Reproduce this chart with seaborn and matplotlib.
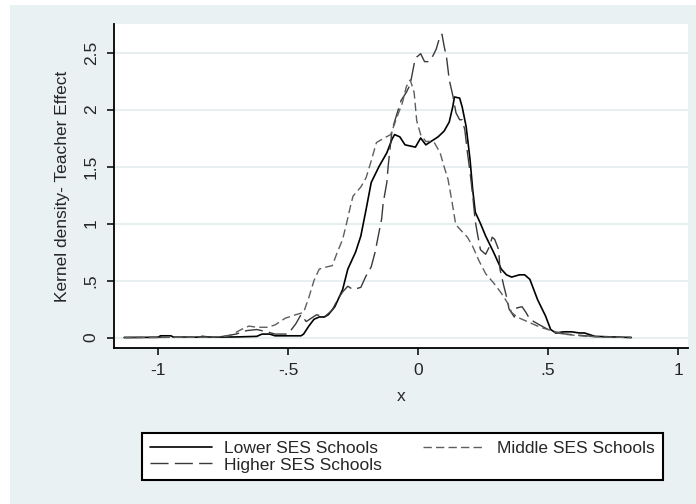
import pandas as pd
import matplotlib.pyplot as plt
import matplotlib.patches as mpatches
import seaborn as sns

# ----------------------------------------------------------
# Data
# ----------------------------------------------------------

lower_x = [-1.13, -1.0, -0.99, -0.95, -0.94, -0.84, -0.83, -0.80, -0.70, -0.62,
           -0.60, -0.57, -0.55, -0.45, -0.44, -0.42, -0.40, -0.38, -0.36, -0.345,
           -0.32, -0.29, -0.27, -0.24, -0.22, -0.20, -0.18, -0.15, -0.12, -0.10,
           -0.09, -0.07, -0.05, -0.03, -0.01, 0.01, 0.03, 0.05, 0.077, 0.10,
           0.12, 0.134, 0.14, 0.16, 0.17, 0.185, 0.20, 0.21, 0.22, 0.24,
           0.26, 0.29, 0.32, 0.34, 0.36, 0.39, 0.41, 0.43, 0.46, 0.49,
           0.51, 0.53, 0.56, 0.59, 0.62, 0.64, 0.68, 0.75, 0.82]
lower_y = [0.0, 0.002, 0.015, 0.015, 0.003, 0.003, 0.01, 0.003, 0.005, 0.01,
           0.03, 0.03, 0.015, 0.015, 0.03, 0.1, 0.16, 0.18, 0.18, 0.2,
           0.27, 0.42, 0.6, 0.75, 0.89, 1.12, 1.36, 1.5, 1.62, 1.74,
           1.78, 1.76, 1.69, 1.68, 1.67, 1.75, 1.69, 1.72, 1.76, 1.81,
           1.89, 2.03, 2.11, 2.1, 2.02, 1.85, 1.56, 1.3, 1.1, 1.0,
           0.89, 0.75, 0.6, 0.55, 0.53, 0.55, 0.55, 0.51, 0.33, 0.19,
           0.07, 0.04, 0.05, 0.05, 0.04, 0.04, 0.01, 0.005, 0.0]

middle_x = [-1.13, -0.80, -0.74, -0.72, -0.68, -0.65, -0.62, -0.58, -0.55, -0.51,
            -0.47, -0.44, -0.42, -0.40, -0.38, -0.35, -0.33, -0.31, -0.29, -0.275,
            -0.26, -0.25, -0.22, -0.20, -0.18, -0.16, -0.13, -0.105, -0.08, -0.06,
            -0.045, -0.03, -0.015, -0.005, 0.01, 0.03, 0.06, 0.085, 0.10, 0.115,
            0.13, 0.145, 0.165, 0.19, 0.21, 0.235, 0.26, 0.29, 0.32, 0.345,
            0.36, 0.38, 0.41, 0.44, 0.47, 0.50, 0.53, 0.56, 0.60, 0.65,
            0.70, 0.82]
middle_y = [0.0, 0.003, 0.01, 0.02, 0.07, 0.10, 0.09, 0.09, 0.11, 0.17,
            0.2, 0.22, 0.35, 0.5, 0.6, 0.62, 0.63, 0.75, 0.86, 1.0,
            1.15, 1.24, 1.32, 1.4, 1.55, 1.71, 1.75, 1.78, 1.94, 2.06,
            2.2, 2.26, 2.15, 1.9, 1.78, 1.72, 1.72, 1.62, 1.5, 1.39,
            1.2, 0.99, 0.94, 0.88, 0.8, 0.67, 0.56, 0.48, 0.39, 0.3,
            0.22, 0.18, 0.15, 0.12, 0.09, 0.07, 0.05, 0.03, 0.02, 0.01,
            0.005, 0.0]

higher_x = [-1.13, -0.80, -0.75, -0.70, -0.66, -0.62, -0.58, -0.55, -0.50, -0.47,
            -0.45, -0.43, -0.41, -0.39, -0.36, -0.33, -0.31, -0.29, -0.27, -0.25,
            -0.22, -0.20, -0.18, -0.165, -0.153, -0.14, -0.134, -0.12, -0.115, -0.10,
            -0.08, -0.065, -0.045, -0.03, -0.015, -0.005, 0.01, 0.025, 0.04, 0.057,
            0.07, 0.084, 0.092, 0.10, 0.11, 0.12, 0.134, 0.146, 0.16, 0.17,
            0.18, 0.19, 0.20, 0.21, 0.22, 0.23, 0.24, 0.26, 0.275, 0.285,
            0.295, 0.31, 0.315, 0.33, 0.34, 0.35, 0.37, 0.38, 0.40, 0.415,
            0.43, 0.46, 0.50, 0.53, 0.57, 0.62, 0.70, 0.82]
higher_y = [0.0, 0.003, 0.01, 0.03, 0.06, 0.07, 0.05, 0.03, 0.03, 0.12,
            0.2, 0.14, 0.17, 0.2, 0.18, 0.24, 0.33, 0.4, 0.45, 0.42,
            0.44, 0.54, 0.62, 0.75, 0.89, 1.04, 1.18, 1.36, 1.5, 1.82,
            1.97, 2.08, 2.15, 2.22, 2.4, 2.46, 2.49, 2.42, 2.42, 2.47,
            2.53, 2.64, 2.66, 2.56, 2.45, 2.26, 2.12, 1.97, 1.91, 1.91,
            1.82, 1.62, 1.45, 1.25, 1.02, 0.89, 0.77, 0.73, 0.8, 0.88,
            0.86, 0.77, 0.6, 0.45, 0.36, 0.25, 0.18, 0.26, 0.27, 0.22,
            0.16, 0.12, 0.07, 0.04, 0.03, 0.02, 0.005, 0.0]

x_ticks = [-1, -0.5, 0, 0.5, 1]
x_tick_labels = ["-1", "-.5", "0", ".5", "1"]
y_ticks = [0, 0.5, 1, 1.5, 2, 2.5]
y_tick_labels = ["0", ".5", "1", "1.5", "2", "2.5"]

# ----------------------------------------------------------
# Style
# ----------------------------------------------------------

sns.set_style("white")
plt.rcParams["font.family"] = ["Liberation Sans", "DejaVu Sans"]
plt.rcParams["font.size"] = 12.5

BG = "#eaf1f3"
W, H = 696, 504

fig = plt.figure(figsize=(W / 100, H / 100), dpi=100, facecolor=BG)

# white strip on the left and top edges of the picture
fig.patches.append(mpatches.Rectangle((0, 0), 10 / W, 1, transform=fig.transFigure,
                                      facecolor="white", edgecolor="none", zorder=-5))
fig.patches.append(mpatches.Rectangle((0, 1 - 5 / H), 1, 5 / H, transform=fig.transFigure,
                                      facecolor="white", edgecolor="none", zorder=-5))

ax = fig.add_axes([114 / W, (H - 348) / H, (688 - 114) / W, (348 - 24) / H])
ax.set_facecolor("white")

# ----------------------------------------------------------
# Curves
# ----------------------------------------------------------

series = [
    ("Lower SES Schools", lower_x, lower_y, "black", "-", 1.2),
    ("Higher SES Schools", higher_x, higher_y, "#3a3a3a", (0, (13, 4.5)), 1.0),
    ("Middle SES Schools", middle_x, middle_y, "#5e5e5e", (0, (6, 3)), 1.0),
]

handles = []
for name, xs, ys, color, ls, lw in series:
    df = pd.DataFrame({"x": xs, "y": ys})
    sns.lineplot(data=df, x="x", y="y", ax=ax, color=color,
                 linestyle=ls, linewidth=lw, estimator=None)
    handles.append(ax.get_lines()[-1])
    handles[-1].set_label(name)

# ----------------------------------------------------------
# Axes
# ----------------------------------------------------------

ax.set_xlim(-1.169, 1.038)
ax.set_ylim(-0.092, 2.75)
ax.set_xticks(x_ticks)
ax.set_xticklabels(x_tick_labels)
ax.set_yticks(y_ticks)
ax.set_yticklabels(y_tick_labels, rotation=90, va="center")

ax.grid(axis="y", color="#e4ecef", linewidth=1.2)
ax.set_axisbelow(True)

for side in ["top", "right"]:
    ax.spines[side].set_visible(False)
for side in ["left", "bottom"]:
    ax.spines[side].set_color("black")
    ax.spines[side].set_linewidth(1.3)

ax.tick_params(axis="both", direction="out", length=5, width=1.1,
               color="black", labelsize=12.5, left=True, bottom=True)
ax.tick_params(axis="x", pad=6)
ax.tick_params(axis="y", pad=6)

ax.set_xlabel("x", fontsize=12.5, labelpad=8)
ax.set_ylabel("Kernel density- Teacher Effect", fontsize=12.5, labelpad=10)

# ----------------------------------------------------------
# Legend
# ----------------------------------------------------------

leg = ax.legend(handles=handles, loc="center",
                bbox_to_anchor=(142 / W, (H - 486) / H, (663 - 142) / W, (486 - 427) / H),
                bbox_transform=fig.transFigure, mode="expand", ncol=2,
                frameon=True, fancybox=False, edgecolor="black", facecolor="white",
                framealpha=1, borderaxespad=0, fontsize=12.5,
                handlelength=3.6, handletextpad=0.7, labelspacing=0.1,
                borderpad=0.45, columnspacing=1.0)
leg.get_frame().set_linewidth(1.5)

fig.savefig("out.png", dpi=100, facecolor=BG)
